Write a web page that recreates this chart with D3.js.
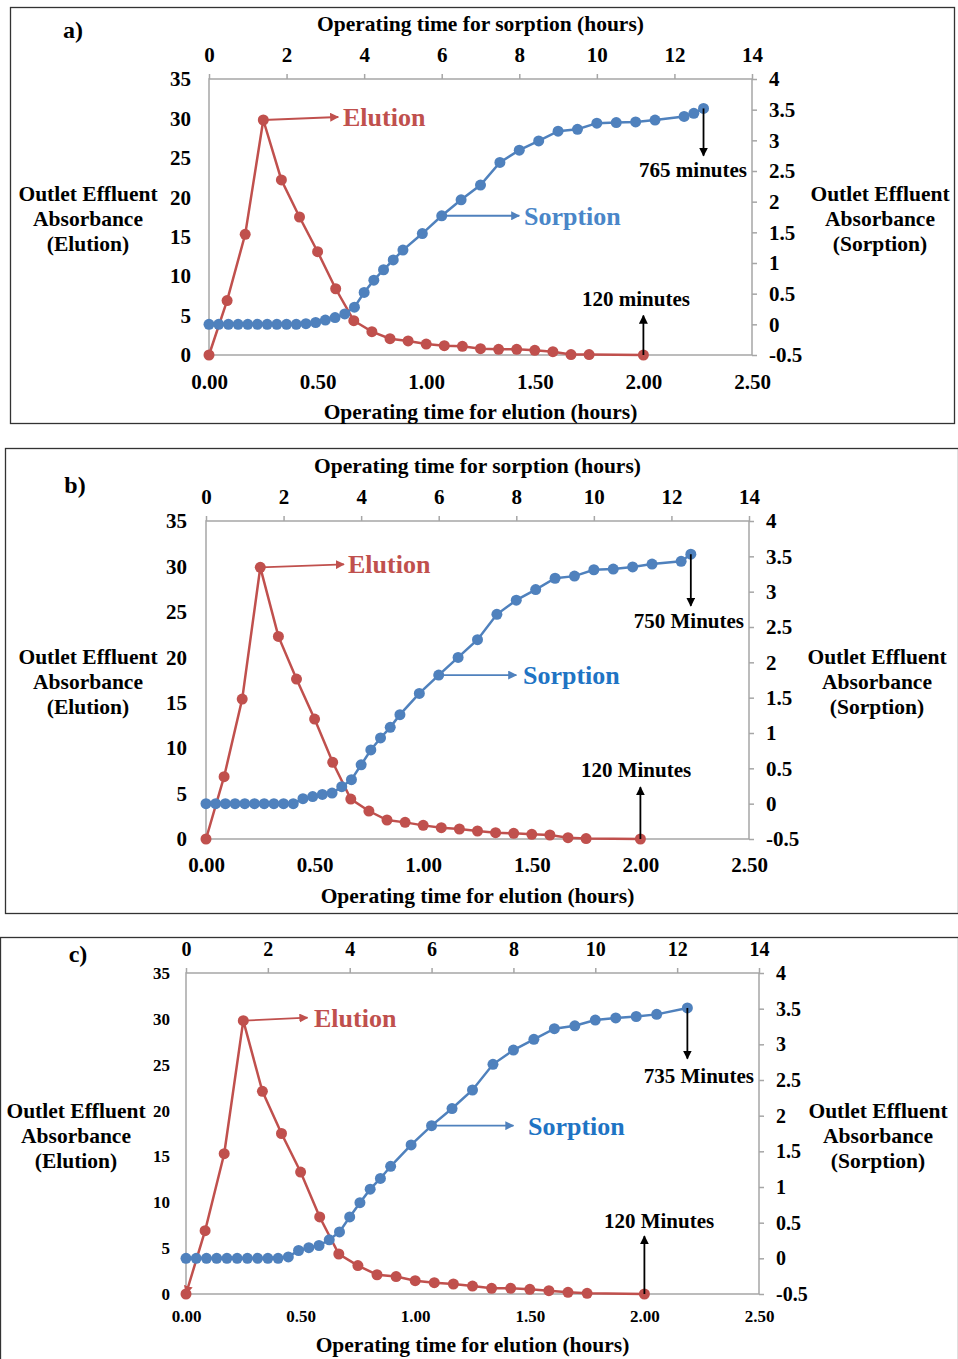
<!DOCTYPE html>
<html>
<head>
<meta charset="utf-8">
<script src="https://cdn.jsdelivr.net/npm/d3@7"></script>
<style>
  body { margin: 0; background: #fff; }
  svg { display: block; }
  text { font-family: "Liberation Serif", "Times New Roman", serif; font-weight: bold; }
</style>
</head>
<body>
<div id="chart"></div>
<script>
// elution sampling times (minutes) - same for all three runs
var elutionMinutes = [0, 5, 10, 15, 20, 25, 30, 35, 40, 45, 50, 55, 60, 65, 70, 75, 80, 85, 90, 95, 100, 105, 120];
var elutionA = [0, 6.9, 15.3, 29.8, 22.2, 17.5, 13.1, 8.4, 4.35, 2.96, 2.07, 1.78, 1.39, 1.18, 1.1, 0.8, 0.72, 0.72, 0.6, 0.42, 0.05, 0.05, 0];
var elutionB = [0, 6.86, 15.4, 29.9, 22.3, 17.6, 13.2, 8.44, 4.4, 3.08, 2.09, 1.83, 1.5, 1.25, 1.1, 0.88, 0.7, 0.62, 0.51, 0.44, 0.15, 0.05, 0];
var elutionC = [0, 6.9, 15.3, 29.8, 22.1, 17.5, 13.3, 8.4, 4.36, 3.1, 2.1, 1.9, 1.45, 1.23, 1.09, 0.87, 0.62, 0.62, 0.51, 0.36, 0.18, 0.07, 0];

// sorption sampling times (hours)
var sorptionHoursA = [0, 0.25, 0.5, 0.75, 1, 1.25, 1.5, 1.75, 2, 2.25, 2.5, 2.75, 3, 3.25, 3.5, 3.75, 4, 4.25, 4.5, 4.75, 5,
  5.5, 6, 6.5, 7, 7.5, 8, 8.5, 9, 9.5, 10, 10.5, 11, 11.5, 12.25, 12.5, 12.75];
var sorptionHoursB = [0, 0.25, 0.5, 0.75, 1, 1.25, 1.5, 1.75, 2, 2.25, 2.5, 2.75, 3, 3.25, 3.5, 3.75, 4, 4.25, 4.5, 4.75, 5,
  5.5, 6, 6.5, 7, 7.5, 8, 8.5, 9, 9.5, 10, 10.5, 11, 11.5, 12.25, 12.5];
var sorptionHoursC = [0, 0.25, 0.5, 0.75, 1, 1.25, 1.5, 1.75, 2, 2.25, 2.5, 2.75, 3, 3.25, 3.5, 3.75, 4, 4.25, 4.5, 4.75, 5,
  5.5, 6, 6.5, 7, 7.5, 8, 8.5, 9, 9.5, 10, 10.5, 11, 11.5, 12.25];
var sorptionA = [0, 0, 0, 0, 0, 0, 0, 0, 0, 0, 0.01, 0.03, 0.07, 0.11, 0.17, 0.28, 0.52, 0.72, 0.89, 1.05, 1.21,
  1.48, 1.77, 2.03, 2.27, 2.64, 2.84, 2.99, 3.15, 3.18, 3.28, 3.29, 3.30, 3.33, 3.39, 3.44, 3.52];
var sorptionB = [0, 0, 0, 0, 0, 0, 0, 0, 0, 0, 0.07, 0.1, 0.13, 0.15, 0.24, 0.34, 0.55, 0.76, 0.93, 1.08, 1.26,
  1.56, 1.82, 2.07, 2.32, 2.68, 2.88, 3.03, 3.19, 3.22, 3.31, 3.32, 3.35, 3.39, 3.43, 3.53];
var sorptionC = [0, 0, 0, 0, 0, 0, 0, 0, 0, 0, 0.02, 0.11, 0.15, 0.18, 0.26, 0.37, 0.58, 0.78, 0.97, 1.12, 1.29,
  1.59, 1.86, 2.1, 2.36, 2.72, 2.92, 3.07, 3.22, 3.26, 3.34, 3.37, 3.39, 3.42, 3.51];

// tick labels
var elutionTicks = [0, 0.5, 1, 1.5, 2, 2.5];
var sorptionTicks = [0, 2, 4, 6, 8, 10, 12, 14];
var leftTicks = [0, 5, 10, 15, 20, 25, 30, 35];
var rightTicks = [-0.5, 0, 0.5, 1, 1.5, 2, 2.5, 3, 3.5, 4];

var red = "#c0504d";
var blue = "#4f81bd";
var axisGray = "#a6a6a6";

var svg = d3.select("#chart").append("svg")
  .attr("width", 958)
  .attr("height", 1359);

var defs = svg.append("defs");
function marker(id, col, w) {
  defs.append("marker")
    .attr("id", id)
    .attr("viewBox", "0 0 10 10")
    .attr("refX", 9).attr("refY", 5)
    .attr("markerWidth", w).attr("markerHeight", w)
    .attr("markerUnits", "strokeWidth")
    .attr("orient", "auto-start-reverse")
    .append("path")
    .attr("d", "M0,0 L10,5 L0,10 z")
    .attr("fill", col);
}
marker("arRed", red, 5);
marker("arBlue", blue, 5);
marker("arBlack", "#000", 5);
marker("arRedSmall", red, 3.6);

var panels = [
  {
    tag: "a)", box: [10, 7, 944, 416],
    left: 209, right: 752, top: 79, bottom: 355,
    elution: elutionA, sHours: sorptionHoursA, sorption: sorptionA,
    topTitle: true, tickFont: 21, lowFont: 21, leftPad: 18, bottomPad: 19,
    tagX: 73, tagY: 38, titleX: 88, rtitleX: 880, titleY: 193, bottomTitleY: 419,
    elArrowTo: 0.595, elTextX: 343,
    soArrowTo: 8.0, soTextX: 524, soTextColor: "#4a86c8",
    endLabel: "765 minutes", endArrowTo: 2.75, endTextY: 177,
    label120: "120 minutes", arrow120To: 5.0, text120X: 636, text120Y: 306,
    startArrow: false
  },
  {
    tag: "b)", box: [5, 448, 953, 465],
    left: 206, right: 749, top: 521, bottom: 839,
    elution: elutionB, sHours: sorptionHoursB, sorption: sorptionB,
    topTitle: true, tickFont: 21, lowFont: 21, leftPad: 19, bottomPad: 18,
    tagX: 75, tagY: 493, titleX: 88, rtitleX: 877, titleY: 656, bottomTitleY: 903,
    elArrowTo: 0.635, elTextX: 348,
    soArrowTo: 8.0, soTextX: 523, soTextColor: "#1f74c4",
    endLabel: "750 Minutes", endArrowTo: 2.8, endTextY: 628,
    label120: "120 Minutes", arrow120To: 5.7, text120X: 636, text120Y: 777,
    startArrow: false
  },
  {
    tag: "c)", box: [0, 937, 958, 424],
    left: 186, right: 759, top: 973, bottom: 1294,
    elution: elutionC, sHours: sorptionHoursC, sorption: sorptionC,
    topTitle: false, tickFont: 20, lowFont: 17, leftPad: 16, bottomPad: 16,
    tagX: 78, tagY: 962, titleX: 76, rtitleX: 878, titleY: 1110, bottomTitleY: 1352,
    elArrowTo: 0.53, elTextX: 314,
    soArrowTo: 8.0, soTextX: 528, soTextColor: "#1f74c4",
    endLabel: "735 Minutes", endArrowTo: 2.8, endTextY: 1083,
    label120: "120 Minutes", arrow120To: 6.3, text120X: 659, text120Y: 1228,
    startArrow: true
  }
];

panels.forEach(drawPanel);

function drawPanel(p) {
  var g = svg.append("g");

  g.append("rect")
    .attr("x", p.box[0] + 0.5).attr("y", p.box[1] + 0.5)
    .attr("width", p.box[2]).attr("height", p.box[3])
    .attr("fill", "none").attr("stroke", "#333").attr("stroke-width", 1.3);

  var xE = d3.scaleLinear().domain([0, 2.5]).range([p.left, p.right]);
  var xS = d3.scaleLinear().domain([0, 14]).range([p.left, p.right]);
  var yL = d3.scaleLinear().domain([0, 35]).range([p.bottom, p.top]);
  var yR = d3.scaleLinear().domain([-0.5, 4]).range([p.bottom, p.top]);

  // plot frame
  g.append("rect")
    .attr("x", p.left).attr("y", p.top)
    .attr("width", p.right - p.left).attr("height", p.bottom - p.top)
    .attr("fill", "none").attr("stroke", axisGray).attr("stroke-width", 1.5);

  function styleAxis(sel, size) {
    sel.select(".domain").remove();
    sel.selectAll(".tick line").attr("stroke", axisGray).attr("stroke-width", 1.5);
    sel.selectAll(".tick text").attr("fill", "#000").style("font-size", size + "px")
      .style("font-family", "'Liberation Serif', 'Times New Roman', serif").style("font-weight", "bold");
  }

  g.append("g").attr("transform", "translate(0," + p.bottom + ")")
    .call(d3.axisBottom(xE).tickValues(elutionTicks).tickSize(0).tickPadding(p.bottomPad).tickFormat(d3.format(".2f")))
    .call(styleAxis, p.lowFont);

  g.append("g").attr("transform", "translate(0," + p.top + ")")
    .call(d3.axisTop(xS).tickValues(sorptionTicks).tickSize(5).tickPadding(12).tickFormat(function(d) { return String(d); }))
    .call(styleAxis, p.tickFont);

  g.append("g").attr("transform", "translate(" + p.left + ",0)")
    .call(d3.axisLeft(yL).tickValues(leftTicks).tickSize(0).tickPadding(p.leftPad).tickFormat(function(d) { return String(d); }))
    .call(styleAxis, p.lowFont);

  g.append("g").attr("transform", "translate(" + p.right + ",0)")
    .call(d3.axisRight(yR).tickValues(rightTicks).tickSize(5).tickPadding(12).tickFormat(function(d) { return String(d); }))
    .call(styleAxis, p.tickFont);

  // titles
  g.append("text").attr("x", p.tagX).attr("y", p.tagY)
    .attr("text-anchor", "middle").style("font-size", "24px").text(p.tag);

  var midX = (p.left + p.right) / 2;
  if (p.topTitle) {
    g.append("text").attr("x", midX).attr("y", p.top - 48)
      .attr("text-anchor", "middle").style("font-size", "21.5px").text("Operating time for sorption (hours)");
  }
  g.append("text").attr("x", midX).attr("y", p.bottomTitleY)
    .attr("text-anchor", "middle").style("font-size", "21.5px").text("Operating time for elution (hours)");

  var leftLines = ["Outlet Effluent", "Absorbance", "(Elution)"];
  var rightLines = ["Outlet Effluent", "Absorbance", "(Sorption)"];
  leftLines.forEach(function(t, i) {
    g.append("text").attr("x", p.titleX).attr("y", p.titleY + i * 25).attr("dy", "0.35em")
      .attr("text-anchor", "middle").style("font-size", "21.5px").text(t);
  });
  rightLines.forEach(function(t, i) {
    g.append("text").attr("x", p.rtitleX).attr("y", p.titleY + i * 25).attr("dy", "0.35em")
      .attr("text-anchor", "middle").style("font-size", "21.5px").text(t);
  });

  // series
  var elPts = elutionMinutes.map(function(m, i) { return { x: m / 60, y: p.elution[i] }; });
  var soPts = p.sHours.map(function(h, i) { return { x: h, y: p.sorption[i] }; });

  var elLine = d3.line().x(function(d) { return xE(d.x); }).y(function(d) { return yL(d.y); });
  var soLine = d3.line().x(function(d) { return xS(d.x); }).y(function(d) { return yR(d.y); });

  var elPath = g.append("path").datum(elPts).attr("d", elLine)
    .attr("fill", "none").attr("stroke", red).attr("stroke-width", 2.5);
  if (p.startArrow) elPath.attr("marker-start", "url(#arRedSmall)");
  g.selectAll(".el").data(elPts).enter().append("circle")
    .attr("cx", function(d) { return xE(d.x); })
    .attr("cy", function(d) { return yL(d.y); })
    .attr("r", 5.5).attr("fill", red);

  g.append("path").datum(soPts).attr("d", soLine)
    .attr("fill", "none").attr("stroke", blue).attr("stroke-width", 2.5);
  g.selectAll(".so").data(soPts).enter().append("circle")
    .attr("cx", function(d) { return xS(d.x); })
    .attr("cy", function(d) { return yR(d.y); })
    .attr("r", 5.5).attr("fill", blue);

  // Elution annotation from the peak
  var peak = elPts[3];
  g.append("line")
    .attr("x1", xE(peak.x)).attr("y1", yL(peak.y))
    .attr("x2", xE(p.elArrowTo)).attr("y2", yL(peak.y) - 3)
    .attr("stroke", red).attr("stroke-width", 1.8).attr("marker-end", "url(#arRed)");
  g.append("text").attr("x", p.elTextX).attr("y", yL(peak.y) - 3).attr("dy", "0.35em")
    .attr("fill", red).style("font-size", "26px").text("Elution");

  // Sorption annotation from the 6 h point
  var s6 = soPts[22];
  g.append("line")
    .attr("x1", xS(s6.x)).attr("y1", yR(s6.y))
    .attr("x2", xS(p.soArrowTo)).attr("y2", yR(s6.y))
    .attr("stroke", blue).attr("stroke-width", 1.8).attr("marker-end", "url(#arBlue)");
  g.append("text").attr("x", p.soTextX).attr("y", yR(s6.y)).attr("dy", "0.35em")
    .attr("fill", p.soTextColor).style("font-size", "26px").text("Sorption");

  // end of sorption
  var last = soPts[soPts.length - 1];
  g.append("line")
    .attr("x1", xS(last.x)).attr("y1", yR(last.y))
    .attr("x2", xS(last.x)).attr("y2", yR(p.endArrowTo))
    .attr("stroke", "#000").attr("stroke-width", 1.8).attr("marker-end", "url(#arBlack)");
  g.append("text").attr("x", p.right - 5).attr("y", p.endTextY)
    .attr("text-anchor", "end").style("font-size", "21px").text(p.endLabel);

  // end of elution
  var lastE = elPts[elPts.length - 1];
  g.append("line")
    .attr("x1", xE(lastE.x)).attr("y1", yL(lastE.y))
    .attr("x2", xE(lastE.x)).attr("y2", yL(p.arrow120To))
    .attr("stroke", "#000").attr("stroke-width", 1.8).attr("marker-end", "url(#arBlack)");
  g.append("text").attr("x", p.text120X).attr("y", p.text120Y)
    .attr("text-anchor", "middle").style("font-size", "21px").text(p.label120);
}
</script>
</body>
</html>
